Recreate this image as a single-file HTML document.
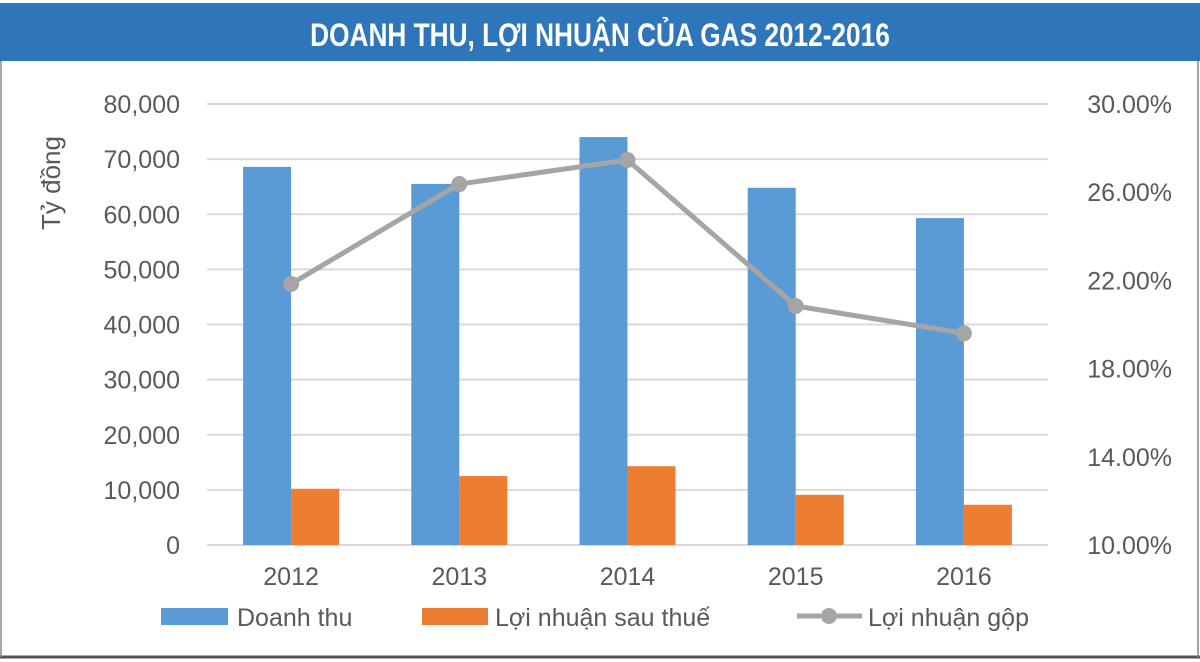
<!DOCTYPE html>
<html><head><meta charset="utf-8"><style>
html,body{margin:0;padding:0;background:#fff}
svg{display:block}
text{font-family:"Liberation Sans",sans-serif;fill:#595959}
</style></head><body>
<svg id="chart" width="1200" height="662" viewBox="0 0 1200 662">
<rect x="0" y="0" width="1200" height="662" fill="#fff"/>
<rect x="0" y="3" width="1200" height="58" fill="#2e75b9"/>
<text x="600" y="46" text-anchor="middle" font-size="32" font-weight="bold" style="fill:#fff" transform="translate(600,0) scale(0.82,1) translate(-600,0)">DOANH THU, LỢI NHUẬN CỦA GAS 2012-2016</text>
<line x1="0" y1="657" x2="1200" y2="657" stroke="#555" stroke-width="3"/>
<line x1="1" y1="61" x2="1" y2="657" stroke="#888" stroke-width="1.5"/>
<line x1="1198" y1="61" x2="1198" y2="657" stroke="#888" stroke-width="1.5"/>
<text x="0" y="0" font-size="26" transform="translate(60,230) rotate(-90)">Tỷ đồng</text>
<g id="grid"></g><g id="bars"></g><g id="line"></g><g id="labels"></g>
<g>
<rect x="161" y="608" width="67" height="17" fill="#5b9bd5"/>
<text x="237" y="626" font-size="25">Doanh thu</text>
<rect x="422" y="608" width="66" height="17" fill="#ed7d31"/>
<text x="495" y="626" font-size="25">Lợi nhuận sau thuế</text>
<line x1="797" y1="616" x2="862" y2="616" stroke="#a5a5a5" stroke-width="5"/>
<circle cx="829" cy="616" r="8" fill="#a5a5a5"/>
<text x="868" y="626" font-size="25">Lợi nhuận gộp</text>
</g>
</svg>
<script>
const categories=["2012","2013","2014","2015","2016"];
const revenue=[68600,65500,74000,64800,59300];
const netProfit=[10200,12500,14300,9100,7300];
const grossMargin=[21.84,26.37,27.46,20.84,19.6];
const leftTicks=[0,10000,20000,30000,40000,50000,60000,70000,80000];
const rightTicks=[10,14,18,22,26,30];
const NS="http://www.w3.org/2000/svg";
const X0=207,X1=1048,Y0=545,Y1=104;
const yL=v=>Y0-(v/80000)*(Y0-Y1);
const yR=v=>Y0-((v-10)/20)*(Y0-Y1);
const band=(X1-X0)/categories.length;
const xc=i=>X0+band*(i+0.5);
const bw=48;
function mk(tag,attrs,parent,txt){const e=document.createElementNS(NS,tag);for(const k in attrs)e.setAttribute(k,attrs[k]);if(txt!==undefined)e.textContent=txt;document.getElementById(parent).appendChild(e);return e;}
leftTicks.forEach(t=>{
 const l=mk('line',{x1:X0,x2:X1,y1:yL(t),y2:yL(t),stroke:'#d9d9d9','stroke-width':2},'grid');
 
 
 const tx=mk('text',{x:180,y:yL(t)+9,'text-anchor':'end','font-size':25},'labels',t.toLocaleString('en-US'));
 
 
});
rightTicks.forEach(t=>{
 const tx=mk('text',{x:1172,y:yR(t)+9,'text-anchor':'end','font-size':25},'labels',t.toFixed(2)+'%');
 
 
});
categories.forEach((c,i)=>{
 const b=mk('rect',{x:xc(i)-bw,y:yL(revenue[i]),width:bw,height:Y0-yL(revenue[i]),fill:'#5b9bd5'},'bars');
 
 
 const o=mk('rect',{x:xc(i),y:yL(netProfit[i]),width:bw,height:Y0-yL(netProfit[i]),fill:'#ed7d31'},'bars');
 
 
 const tx=mk('text',{x:xc(i),y:585,'text-anchor':'middle','font-size':25},'labels',c);
 
 
});
const pts=grossMargin.map((v,i)=>xc(i)+','+yR(v)).join(' ');
const pl=mk('polyline',{points:pts,fill:'none',stroke:'#a5a5a5','stroke-width':5,'stroke-linejoin':'round'},'line');


grossMargin.forEach((v,i)=>{
 const p=mk('circle',{cx:xc(i),cy:yR(v),r:8,fill:'#a5a5a5'},'line');
 
 
});
</script>
</body></html>
